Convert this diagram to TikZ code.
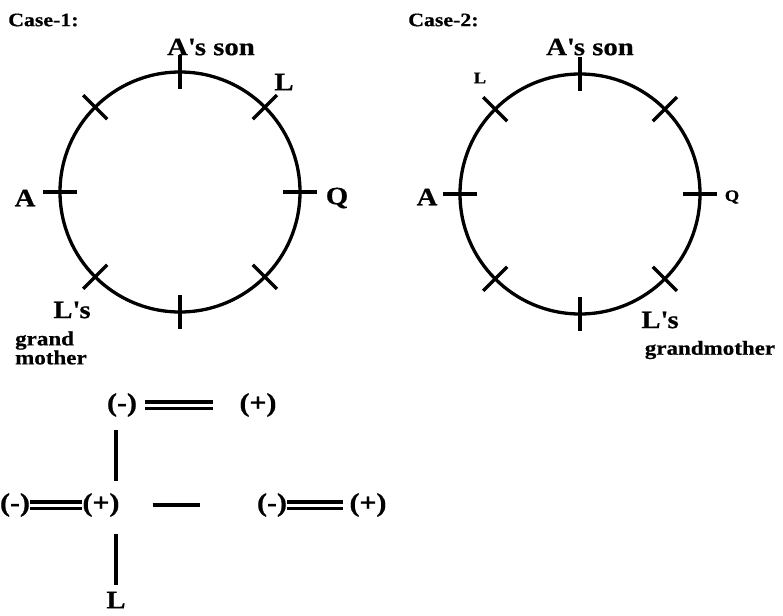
\documentclass[tikz,border=0pt]{standalone}
\usepackage{fontspec}
\setmainfont{Liberation Serif}[FakeStretch=1.15,BoldFeatures={FakeBold=0.6}]
\begin{document}
\begin{tikzpicture}[x=1pt,y=-1pt,line join=round,every node/.style={inner sep=0pt},
	big/.style={font=\fontsize{25}{28}\selectfont\bfseries},
	small/.style={font=\fontsize{20}{19}\selectfont\bfseries},
	tiny/.style={font=\fontsize{16}{17}\selectfont\bfseries},
	hd/.style={font=\fontsize{19}{20}\selectfont\bfseries},
	sgn/.style={font=\fontsize{26}{26}\selectfont\bfseries},
	link/.style={line width=3.3pt},
	dbl/.style={double,double distance=3pt,line width=3.8pt}]
	\useasboundingbox (0,0) rectangle (783,615);
	% the two seatings
	\coordinate (c1) at (180,192);
	\coordinate (c2) at (580,194);
	\foreach \c in {c1,c2}{\draw[line width=3.3pt] (\c) circle (120);
		\foreach \t in {0,45,...,315}{\draw[line width=3.3pt] (\c) ++(\t:103) -- ++(\t:34);}}
	% case 1
	\node[hd,anchor=west] (h1) at (8,20) {Case-1:};
	\node[big] (s1) at (211,47) {A\textquotesingle s son};
	\node[big] (l1) at (284,82) {L};
	\node[big] (q1) at (337,198) {Q};
	\node[big] (a1) at (25,198) {A};
	\node[big] (g1) at (72,310) {L\textquotesingle s};
	\node[small,align=left,anchor=west] (gm1) at (15,348) {grand\\mother};
	% case 2
	\node[hd,anchor=west] (h2) at (408,20) {Case-2:};
	\node[big] (s2) at (590,47) {A\textquotesingle s son};
	\node[tiny] (l2) at (480,78) {L};
	\node[tiny] (q2) at (732,197) {Q};
	\node[big] (a2) at (427,197) {A};
	\node[big] (g2) at (660,320) {L\textquotesingle s};
	\node[small] (gm2) at (710,350) {grandmother};
	% pairs
	\node[sgn] (m1) at (122,405) {(-)};
	\node[sgn] (p1) at (258,405) {(+)};
	\node[sgn] (m2) at (15,505) {(-)};
	\node[sgn] (p2) at (101,505) {(+)};
	\node[sgn] (m3) at (272,505) {(-)};
	\node[sgn] (p3) at (368,505) {(+)};
	\node[big] (l3) at (116,600) {L};
	\draw[dbl,shorten <=8pt,shorten >=26pt] (m1) -- (p1);
	\draw[dbl] (m2) -- (p2);
	\draw[dbl,shorten >=6pt] (m3) -- (p3);
	\draw[link,shorten <=33pt,shorten >=57pt] (p2) -- (m3);
	\draw[link,shorten <=13pt,shorten >=12pt] (m1.south -| l3) -- (p2.north -| l3);
	\draw[link,shorten <=17pt,shorten >=7pt] (p2.south -| l3) -- (l3.north);
\end{tikzpicture}
\end{document}
